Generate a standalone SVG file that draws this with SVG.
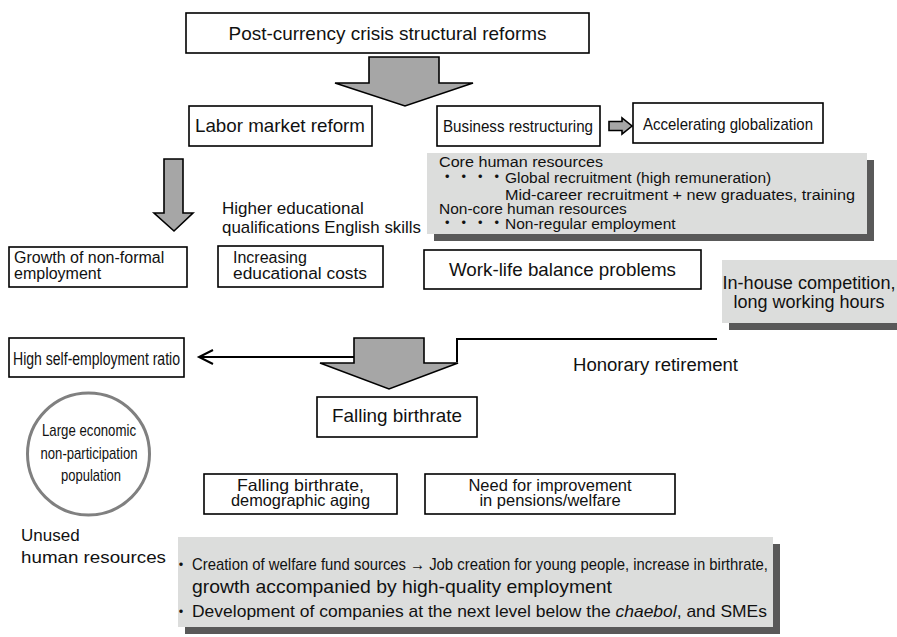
<svg xmlns="http://www.w3.org/2000/svg" width="897" height="637" viewBox="0 0 897 637">
<style>
text{font-family:"Liberation Sans",Arial,"Noto Sans CJK JP",sans-serif;fill:#111}
.box{fill:#fff;stroke:#000;stroke-width:1.6}
.gray{fill:#dcdddc}
.shadow{fill:#595959}
.big{fill:#a6a6a6;stroke:#000;stroke-width:1.6;stroke-linejoin:miter}
.line{fill:none;stroke:#000;stroke-width:2}
.c{text-anchor:middle}
</style>
<g id="connectors">
<polygon class="big" points="369,57 439,57 439,83 473,83 405,106 335,83 369,83"/>
<polygon class="big" points="609,121.5 622,121.5 622,118 632,126 622,134 622,130.5 609,130.5"/>
<polygon class="big" points="164,159 183,159 183,213 193,213 174,231 154,213 164,213"/>
<path class="line" d="M717,339 H457 V362"/>
<path class="line" d="M354,357 H199"/>
<path class="line" d="M213,350 L199,357 L213,364"/>
<polygon class="big" points="354,338 424,338 424,363 458,363 389,389 320,363 354,363"/>
</g>
<g id="n-post">
<rect class="box" x="186" y="13" width="403" height="40"/>
<text x="387.5" y="40" class="c" font-size="19" textLength="318" lengthAdjust="spacingAndGlyphs">Post-currency crisis structural reforms</text>
</g>
<g id="n-labor">
<rect class="box" x="189" y="106" width="183" height="40"/>
<text x="195" y="132" font-size="18.5" textLength="170" lengthAdjust="spacingAndGlyphs">Labor market reform</text>
</g>
<g id="n-business">
<rect class="box" x="437" y="106" width="163" height="40"/>
<text x="443" y="131.5" font-size="17" textLength="150" lengthAdjust="spacingAndGlyphs">Business restructuring</text>
</g>
<g id="n-global">
<rect class="box" x="633" y="103" width="190" height="40"/>
<text x="643" y="129.5" font-size="17" textLength="170" lengthAdjust="spacingAndGlyphs">Accelerating globalization</text>
</g>
<g id="n-core">
<rect class="shadow" x="434" y="160" width="440" height="81"/>
<rect class="gray" x="427" y="153" width="440" height="81"/>
<text x="439" y="167" font-size="15.5" textLength="164" lengthAdjust="spacingAndGlyphs">Core human resources</text>
<text x="439" y="183" font-size="15.5"><tspan font-size="16.5">・・・・</tspan><tspan x="505">Global recruitment (high remuneration)</tspan></text>
<text x="505" y="199.5" font-size="15.5" textLength="350" lengthAdjust="spacingAndGlyphs">Mid-career recruitment + new graduates, training</text>
<text x="439" y="214" font-size="15.5">Non-core human resources</text>
<text x="439" y="229" font-size="15.5"><tspan font-size="16.5">・・・・</tspan><tspan x="505">Non-regular employment</tspan></text>
</g>
<g id="n-higher">
<text x="222" y="214" font-size="17">Higher educational</text>
<text x="222" y="233" font-size="17" textLength="199" lengthAdjust="spacingAndGlyphs">qualifications English skills</text>
</g>
<g id="n-growth">
<rect class="box" x="9" y="247" width="178" height="40"/>
<text x="14" y="263" font-size="16">Growth of non-formal</text>
<text x="14" y="279" font-size="16">employment</text>
</g>
<g id="n-edu">
<rect class="box" x="218" y="246" width="165" height="41"/>
<text x="233" y="263" font-size="16">Increasing</text>
<text x="233" y="279" font-size="16" textLength="134" lengthAdjust="spacingAndGlyphs">educational costs</text>
</g>
<g id="n-worklife">
<rect class="box" x="424" y="250" width="277" height="39"/>
<text x="562.5" y="276" class="c" font-size="18.5" textLength="227" lengthAdjust="spacingAndGlyphs">Work-life balance problems</text>
</g>
<g id="n-inhouse">
<rect class="shadow" x="729" y="267" width="180" height="63"/>
<rect class="gray" x="722" y="260" width="180" height="63"/>
<text x="809" y="289" class="c" font-size="18" textLength="173" lengthAdjust="spacingAndGlyphs">In-house competition,</text>
<text x="809" y="308" class="c" font-size="18">long working hours</text>
</g>
<g id="n-self">
<rect class="box" x="9" y="338" width="175" height="39"/>
<text x="13" y="364.5" font-size="17.5" textLength="167" lengthAdjust="spacingAndGlyphs">High self-employment ratio</text>
</g>
<g id="n-honorary">
<text x="573" y="371" font-size="18" textLength="165" lengthAdjust="spacingAndGlyphs">Honorary retirement</text>
</g>
<g id="n-falling">
<rect class="box" x="317" y="397" width="160" height="40"/>
<text x="397" y="422" class="c" font-size="18.5" textLength="130" lengthAdjust="spacingAndGlyphs">Falling birthrate</text>
</g>
<g id="n-circle">
<circle cx="88.5" cy="454" r="61" fill="#fff" stroke="#808080" stroke-width="3"/>
<text x="89" y="436" class="c" font-size="17" textLength="94" lengthAdjust="spacingAndGlyphs">Large economic</text>
<text x="89" y="458.5" class="c" font-size="17" textLength="97" lengthAdjust="spacingAndGlyphs">non-participation</text>
<text x="91" y="481" class="c" font-size="17" textLength="60" lengthAdjust="spacingAndGlyphs">population</text>
</g>
<g id="n-aging">
<rect class="box" x="204" y="474" width="193" height="40"/>
<text x="300.5" y="490.5" class="c" font-size="16.5" textLength="127" lengthAdjust="spacingAndGlyphs">Falling birthrate,</text>
<text x="300.5" y="506" class="c" font-size="16.5" textLength="139" lengthAdjust="spacingAndGlyphs">demographic aging</text>
</g>
<g id="n-pension">
<rect class="box" x="425" y="474" width="250" height="40"/>
<text x="550" y="490.5" class="c" font-size="16.5">Need for improvement</text>
<text x="550" y="506" class="c" font-size="16.5">in pensions/welfare</text>
</g>
<g id="n-unused">
<text x="21" y="541" font-size="17">Unused</text>
<text x="21" y="563" font-size="17" textLength="145" lengthAdjust="spacingAndGlyphs">human resources</text>
</g>
<g id="n-policy">
<rect class="shadow" x="185" y="544" width="595" height="90"/>
<rect class="gray" x="178" y="537" width="595" height="90"/>
<text x="173" y="570" font-size="16">・</text>
<text x="192" y="570" font-size="17" textLength="576" lengthAdjust="spacingAndGlyphs">Creation of welfare fund sources → Job creation for young people, increase in birthrate,</text>
<text x="192" y="593" font-size="18.5" textLength="420" lengthAdjust="spacingAndGlyphs">growth accompanied by high-quality employment</text>
<text x="173" y="617" font-size="16">・</text>
<text x="192" y="617" font-size="17" textLength="575" lengthAdjust="spacingAndGlyphs">Development of companies at the next level below the <tspan font-style="italic">chaebol</tspan>, and SMEs</text>
</g>
</svg>
